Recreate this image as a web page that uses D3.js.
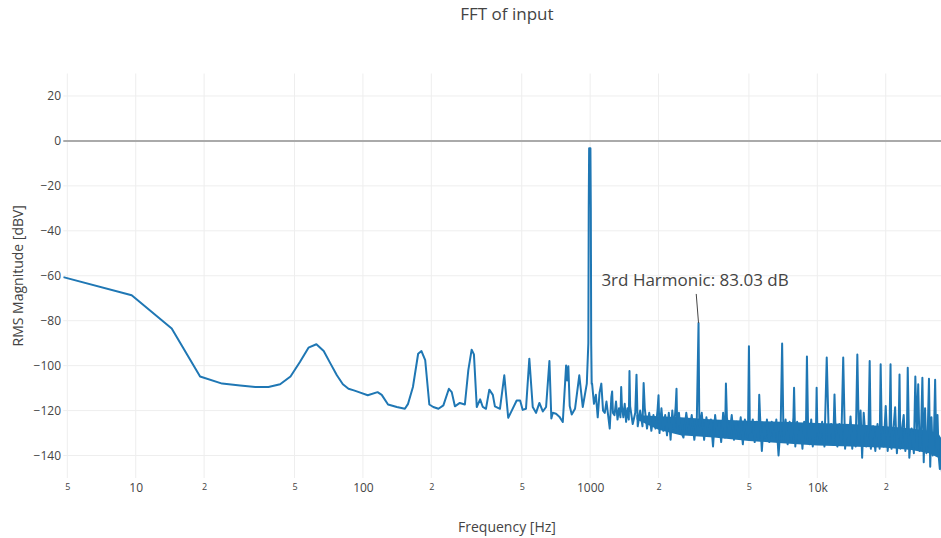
<!DOCTYPE html>
<html>
<head>
<meta charset="utf-8">
<script src="https://cdn.jsdelivr.net/npm/d3@7"></script>
<style>
  body { margin: 0; background: #fff; }
  svg { display: block; font-family: "Open Sans", sans-serif; }
</style>
</head>
<body>
<div id="root"></div>
<script>
const w = 941;
const h = 538;
const margin = { top: 73.5, bottom: 60, left: 63.3, right: -9.6 };

// low end of the spectrum, up to the 1 kHz test tone
const lowFreq = [4.8, 9.6, 14.4, 19.2, 24.0, 28.8, 33.6, 38.4, 43.2, 48.0, 52.8, 57.6, 62.4, 67.2, 72.0, 76.8,
    81.6, 86.4, 91.2, 96, 105, 116, 121, 129, 141, 153, 158, 166, 175, 181, 188, 196, 204, 215, 226, 239, 246,
    254, 267, 281, 291, 301, 308, 317, 328, 337, 348, 360, 373, 381, 401, 419, 436, 452, 475, 492, 505, 522,
    540, 559, 578, 598, 619, 640, 662, 675, 685, 708, 732, 758, 784, 792, 802, 813, 830, 858, 896, 928, 967];
const lowDb = [-60.6, -68.7, -83.5, -104.8, -108.0, -108.8, -109.5, -109.5, -108.3, -104.8, -98.4, -92.0, -90.5,
    -93.5, -99.1, -104.3, -108.3, -110.3, -111.0, -111.8, -113.2, -111.8, -113.0, -117.3, -118.4, -119.2, -117.0,
    -109.5, -94.7, -93.5, -97.6, -117.3, -118.4, -119.2, -117.7, -110.3, -111.8, -118.1, -116.6, -117.3, -102.0,
    -92.9, -95.0, -118.4, -115.0, -118.4, -119.2, -110.7, -113.0, -118.1, -119.2, -104.3, -123.2, -120.0, -115.5,
    -115.5, -119.7, -119.2, -96.9, -118.4, -121.0, -116.6, -120.4, -118.4, -97.9, -123.5, -121.0, -121.4, -122.7,
    -125.1, -99.9, -106.6, -100.3, -118.0, -121.7, -119.2, -104.3, -118.4, -108.0];

// the 1 kHz test tone
const toneFreq = [982, 986, 990, 1003, 1007, 1011, 1016];
const toneDb = [-90, -30, -3.3, -3.3, -30, -90, -108];

// noise floor above the tone
const noiseFreq = [
    1020, 1040, 1060, 1080, 1100, 1120, 1140, 1160, 1180, 1200, 1220, 1240, 1260, 1280, 1300, 1320, 1340, 1360,
    1380, 1400, 1420, 1440, 1460, 1480, 1500,
    1540, 1580, 1620, 1660, 1700, 1740, 1780, 1820, 1860, 1900, 1940, 1980, 2020, 2060, 2100, 2140, 2180, 2220,
    2260, 2300, 2340, 2380, 2420, 2460, 2500,
    2575, 2650, 2725, 2800, 2875, 2950, 3025, 3100, 3175, 3250, 3325, 3400, 3475, 3550, 3625, 3700, 3775, 3850,
    3925, 4000,
    4100, 4200, 4300, 4400, 4500, 4600, 4700, 4800, 4950, 5050, 5200, 5300, 5400, 5500, 5600, 5700, 5800, 5900, 6000,
    6150, 6300, 6450, 6600, 6750, 6900, 7100, 7250, 7400, 7550, 7700, 7850, 8000, 8150, 8300, 8450, 8600, 8750,
    8900, 9100, 9250, 9400, 9550, 9700, 9850,
    10000, 10250, 10500, 10750, 11250, 11500, 11750, 12000, 12250, 12500, 12750, 13250, 13500, 13750, 14000,
    14250, 14500, 14750, 15250, 15500, 15750,
    16000, 16400, 16800, 17200, 17600, 18000, 18400, 18800, 19200, 19600, 20000, 20400, 20800, 21200, 21600,
    22000, 22400, 22800, 23200, 23600, 24000, 24400, 24800,
    25400, 26000, 26600, 27400, 27800, 28200, 28600, 29400, 29800, 30200, 30600, 31400, 31800, 32200, 32600,
    33400, 33800, 34200, 34600, 35000, 35600, 36200, 37000, 38000, 38600];
const noiseDb = [
    -108, -117, -113, -123, -112, -108, -120, -121, -116, -122, -128, -114, -121, -122, -116, -124, -119, -123,
    -118, -123, -117, -125, -119, -124, -118,
    -126, -121, -127, -120, -127, -119, -128, -121, -129, -122, -128, -120, -130, -119, -129, -122, -131, -121,
    -133, -120, -128, -118, -130, -121, -129,
    -132, -121, -130, -122, -133, -123, -127, -121, -133, -123, -131, -124, -136, -122, -131, -125, -134, -121,
    -132, -123,
    -131, -122, -133, -125, -131, -123, -135, -124, -132, -130, -124, -134, -125, -133, -123, -138, -126, -132, -124,
    -134, -125, -133, -124, -140, -126, -133, -124, -135, -125, -134, -123, -136, -125, -134, -126, -137, -125,
    -133, -126, -135, -124, -136, -126, -134,
    -128, -133, -125, -136, -134, -126, -135, -125, -136, -126, -134, -137, -127, -135, -122.6,
    -137, -127, -136, -134, -120, -141,
    -121, -136, -128, -137, -127, -138, -126, -137, -128, -136, -118, -138, -128, -137, -129,
    -118.5, -139, -128, -137, -128, -122, -138, -129,
    -141, -128, -139, -130, -108.3, -138, -130, -143, -119, -139, -131, -145, -123, -140, -132,
    -139, -122, -140, -146, -143, -150, -148, -153, -155, -158];

// solid core of the noise floor, where the bins pile up
const bandFreq = [1600, 2000, 2500, 3500, 5000, 7000, 10000, 14000, 20000, 26000, 31000, 34000, 35500, 37000, 38600];
const bandTop = [-122, -122.5, -123, -124, -124.5, -125, -125.5, -126, -127, -128, -129, -130, -133, -139, -145];
const bandBottom = [-124, -128.5, -131, -132, -133.5, -134.5, -135.5, -136, -136.5, -137.5, -139, -141, -146, -150, -155];

// harmonics and spurs standing out of the noise floor
const spikeFreq = [1250, 1370, 1490, 1600, 1720, 2000, 2400, 3000, 3960, 5000, 5550, 7000, 7900, 9000, 9930,
    11000, 11900, 13000, 15000, 17000, 19000, 21000, 23000, 25000, 27000, 29000, 31000, 33000];
const spikeDb = [-111.5, -109.5, -102.4, -104, -107.7, -113.2, -110.3, -81, -108, -91.4, -113, -90.2, -109.8,
    -95.9, -109.8, -96.4, -112.8, -96.4, -95, -97.9, -99.4, -99.4, -103.9, -100.9, -104.8, -105.4, -105.8, -106.3];

// axis ticks
const xTicks = [5, 10, 20, 50, 100, 200, 500, 1000, 2000, 5000, 10000, 20000];
const xTickLabels = ["5", "10", "2", "5", "100", "2", "5", "1000", "2", "5", "10k", "2"];
const yTicks = [-140, -120, -100, -80, -60, -40, -20, 0, 20];
const yDomain = [-150, 30];

// annotation on the 3rd harmonic
const annotFreq = 3000;
const annotDb = -81;
const annotText = "3rd Harmonic: 83.03 dB";

// merge everything into one sorted trace
const spectrum = [];
[[lowFreq, lowDb], [toneFreq, toneDb], [noiseFreq, noiseDb], [spikeFreq, spikeDb]].forEach(([fs, ds]) => {
    fs.forEach((f, i) => spectrum.push({ f: f, db: ds[i] }));
});
spectrum.sort((a, b) => a.f - b.f);
const band = bandFreq.map((f, i) => ({ f: f, top: bandTop[i], bottom: bandBottom[i] }));

const xScale = d3.scaleLog()
    .domain(d3.extent(spectrum, d => d.f))
    .range([margin.left, w - margin.right]);
const yScale = d3.scaleLinear()
    .domain(yDomain)
    .range([h - margin.bottom, margin.top]);

const svg = d3.select("#root")
    .append("svg")
    .attr("width", w)
    .attr("height", h);

svg.append("clipPath")
    .attr("id", "plot-clip")
    .append("rect")
    .attr("x", margin.left)
    .attr("y", margin.top)
    .attr("width", w - margin.right - margin.left)
    .attr("height", h - margin.bottom - margin.top);

// grid
const grid = svg.append("g").attr("id", "grid");
grid.selectAll(".vgrid")
    .data(xTicks)
    .enter()
    .append("line")
    .attr("class", "vgrid")
    .attr("x1", d => xScale(d))
    .attr("x2", d => xScale(d))
    .attr("y1", margin.top)
    .attr("y2", h - margin.bottom)
    .attr("stroke", "#eee");
grid.selectAll(".hgrid")
    .data(yTicks)
    .enter()
    .append("line")
    .attr("class", "hgrid")
    .attr("x1", margin.left)
    .attr("x2", w - margin.right)
    .attr("y1", d => yScale(d))
    .attr("y2", d => yScale(d))
    .attr("stroke", "#eee");

// zero line
const zeroY = Math.round(yScale(0));
svg.append("line")
    .attr("x1", margin.left)
    .attr("x2", w - margin.right)
    .attr("y1", zeroY)
    .attr("y2", zeroY)
    .attr("stroke", "#aaa")
    .attr("stroke-width", 2);

// the spectrum
const plot = svg.append("g").attr("clip-path", "url(#plot-clip)");
const area = d3.area()
    .x(d => xScale(d.f))
    .y0(d => yScale(d.bottom))
    .y1(d => yScale(d.top));
plot.append("path")
    .datum(band)
    .attr("fill", "#1f77b4")
    .attr("d", area);
const line = d3.line()
    .x(d => xScale(d.f))
    .y(d => yScale(d.db));
plot.append("path")
    .datum(spectrum)
    .attr("fill", "none")
    .attr("stroke", "#1f77b4")
    .attr("stroke-width", 2)
    .attr("stroke-linejoin", "round")
    .attr("d", line);

// x-axis
const xAxis = d3.axisBottom(xScale)
    .tickValues(xTicks)
    .tickFormat((d, i) => xTickLabels[i])
    .tickSize(0)
    .tickPadding(5.2);
const xg = svg.append("g")
    .attr("id", "x-axis")
    .attr("transform", "translate(0," + (h - margin.bottom) + ")")
    .call(xAxis)
    .attr("font-family", null)
    .attr("font-size", null);
xg.select(".domain").remove();
xg.selectAll("text")
    .attr("fill", "#444")
    .style("font-size", (d, i) => xTickLabels[i].length === 1 ? "9px" : "12px");

// y-axis
const yAxis = d3.axisLeft(yScale)
    .tickValues(yTicks)
    .tickFormat(d => d < 0 ? "\u2212" + Math.abs(d) : d)
    .tickSize(0)
    .tickPadding(2.3);
const yg = svg.append("g")
    .attr("id", "y-axis")
    .attr("transform", "translate(" + margin.left + ",0)")
    .call(yAxis)
    .attr("font-family", null)
    .attr("font-size", null);
yg.select(".domain").remove();
yg.selectAll("text")
    .attr("fill", "#444")
    .style("font-size", "12px");

// title and axis titles
const midX = (margin.left + w - margin.right) / 2;
svg.append("text")
    .attr("x", midX)
    .attr("y", 19.5)
    .attr("text-anchor", "middle")
    .attr("fill", "#444")
    .style("font-size", "17px")
    .text("FFT of input");
svg.append("text")
    .attr("x", midX)
    .attr("y", 532)
    .attr("text-anchor", "middle")
    .attr("fill", "#444")
    .style("font-size", "14px")
    .text("Frequency [Hz]");
svg.append("text")
    .attr("transform", "translate(22.5," + ((margin.top + h - margin.bottom) / 2) + ") rotate(-90)")
    .attr("text-anchor", "middle")
    .attr("fill", "#444")
    .style("font-size", "14px")
    .text("RMS Magnitude [dBV]");

// annotation
const tipX = xScale(annotFreq);
const tipY = yScale(annotDb);
svg.append("line")
    .attr("x1", tipX)
    .attr("y1", tipY)
    .attr("x2", tipX - 2.3)
    .attr("y2", tipY - 29)
    .attr("stroke", "#444")
    .attr("stroke-width", 1);
svg.append("text")
    .attr("x", tipX - 3.5)
    .attr("y", tipY - 36.5)
    .attr("text-anchor", "middle")
    .attr("fill", "#444")
    .style("font-size", "17px")
    .text(annotText);
</script>
</body>
</html>
